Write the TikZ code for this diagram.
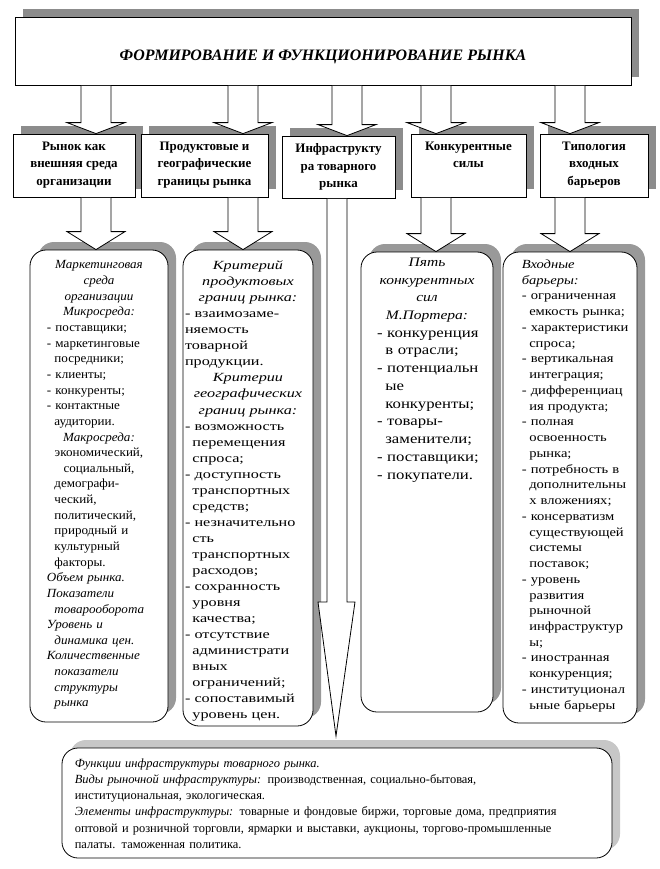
\documentclass[tikz,border=0pt]{standalone}
\usepackage{fontspec}
\setmainfont{Liberation Serif}
\newfontfamily\mktfont[FakeStretch=1.05]{Liberation Serif}
\newfontfamily\grnfont[FakeStretch=1.3]{Liberation Serif}
\newfontfamily\prtfont[FakeStretch=1.2]{Liberation Serif}
\newfontfamily\barfont[FakeStretch=1.17]{Liberation Serif}
\usetikzlibrary{positioning,shadows}
\newcommand\ind{\hspace*{0.6em}}
\newcommand\dsh{\mbox{-}~}
\tikzset{
  sbox/.style={draw, fill=white, line width=.8bp, inner sep=0pt,
    general shadow={fill=#1, shadow xshift=8bp, shadow yshift=8bp}},
  sbox/.default=black!45,
  rbox/.style={sbox=#1, rounded corners=16bp},
  rbox/.default=black!40,
  hdr/.style={anchor=north, align=center, inner sep=0pt,
    font=\fontsize{13}{17.5}\selectfont\bfseries},
  txt/.style={anchor=north, text width=#1, inner sep=0pt, align=left},
  barr/.style={draw, fill=white, line width=.8bp, line join=miter}
}
% block arrow: x, from node, to node, head length
\newcommand\barrow[4]{%
  \path (#1,0 |- #2.south) coordinate (as) (#1,0 |- #3.north) coordinate (ae);
  \draw[barr] ([xshift=-15bp,yshift=-.5bp]as) -- ([xshift=-15bp,yshift=#4]ae)
    -- ([xshift=-29bp,yshift=#4]ae) -- (ae) -- ([xshift=29bp,yshift=#4]ae)
    -- ([xshift=15bp,yshift=#4]ae) -- ([xshift=15bp,yshift=-.5bp]as);
}
\begin{document}
\begin{tikzpicture}[x=1bp, y=-1bp]
\useasboundingbox (0,0) rectangle (660,869);

\node[sbox, minimum width=616bp, minimum height=68bp] (title) at (323,51) {};
\node[font=\fontsize{16}{19}\selectfont\bfseries\itshape] (titlet)
  at ([yshift=-6bp]title.center) {ФОРМИРОВАНИЕ И ФУНКЦИОНИРОВАНИЕ РЫНКА};

% headers
\node[sbox, minimum width=122bp, minimum height=63bp] (h1) at (74,165.5) {};
\node[sbox, minimum width=127bp, minimum height=63bp] (h2) at (204.5,165.5) {};
\node[sbox, minimum width=113bp, minimum height=62bp] (h3) at (338.5,167) {};
\node[sbox, minimum width=115bp, minimum height=63bp] (h4) at (468.5,165.5) {};
\node[sbox, minimum width=108bp, minimum height=63bp] (h5) at (594,165.5) {};
\node[hdr, below=8bp of h1.north] (h1t) {Рынок как\\ внешняя среда\\ организации};
\node[hdr, below=8bp of h2.north] (h2t) {Продуктовые и\\ географические\\ границы рынка};
\node[hdr, below=8bp of h3.north] (h3t) {Инфраструкту\\ ра товарного\\ рынка};
\node[hdr, below=8bp of h4.north] (h4t) {Конкурентные\\ силы};
\node[hdr, below=8bp of h5.north] (h5t) {Типология\\ входных\\ барьеров};

% lower boxes
\node[rbox, minimum width=138bp, minimum height=472bp] (b1) at (99,486) {};
\node[rbox, minimum width=130bp, minimum height=476bp] (b2) at (248,488) {};
\node[rbox, minimum width=132bp, minimum height=460bp] (b4) at (427,482) {};
\node[rbox, minimum width=134bp, minimum height=471bp] (b5) at (570,487.5) {};
\node[rbox=black!22, minimum width=550bp, minimum height=110bp] (bot) at (337,803) {};

\node[txt=104bp, below=11bp of b1.north, font=\fontsize{12.5}{15.7}\mktfont] (b1t) {%
{\centering\itshape Маркетинговая\\ среда\\ организации\\ Микросреда:\par}
\dsh поставщики;\\ \dsh маркетинговые\\ \ind посредники;\\ \dsh клиенты;\\ \dsh конкуренты;\\
\dsh контактные\\ \ind аудитории.\par
{\centering\itshape Макросреда:\par}
{\centering экономический,\\ социальный,\par}
\ind демографи-\\ \ind ческий,\\ \ind политический,\\ \ind природный и\\
\ind культурный\\ \ind факторы.\par
{\itshape Объем рынка.\\ Показатели\\ \ind товарооборота\\ Уровень и\\
\ind динамика цен.\\ Количественные\\ \ind показатели\\ \ind структуры\\ \ind рынка\par}};

\node[txt=126bp, below=11bp of b2.north, font=\fontsize{12.5}{16.1}\grnfont] (b2t) {%
{\centering\itshape Критерий\\ продуктовых\\ границ рынка:\par}
\dsh взаимозаме-\\ няемость\\ товарной\\ продукции.\par
{\centering\itshape Критерии\\ географических\\ границ рынка:\par}
\dsh возможность\\ \ind перемещения\\ \ind спроса;\\
\dsh доступность\\ \ind транспортных\\ \ind средств;\\
\dsh незначительно\\ \ind сть\\ \ind транспортных\\ \ind расходов;\\
\dsh сохранность\\ \ind уровня\\ \ind качества;\\
\dsh отсутствие\\ \ind администрати\\ \ind вных\\ \ind ограничений;\\
\dsh сопоставимый\\ \ind уровень цен.};

\node[txt=100bp, below=6bp of b4.north, font=\fontsize{14}{17.8}\prtfont] (b4t) {%
{\centering\itshape\fontsize{13}{17.8}\selectfont Пять\\ конкурентных\\ сил\\ М.Портера:\par}
\dsh конкуренция\\ \ind в~отрасли;\\ \dsh потенциальн\\ \ind ые\\ \ind конкуренты;\\
\dsh товары-\\ \ind заменители;\\ \dsh поставщики;\\ \dsh покупатели.};

\node[txt=118bp, below right=8bp and 19bp of b5.north west,
  font=\fontsize{12.5}{15.8}\barfont] (b5t) {%
{\itshape Входные\\ барьеры:\par}
\dsh ограниченная\\ \ind емкость~рынка;\\ \dsh характеристики\\ \ind спроса;\\
\dsh вертикальная\\ \ind интеграция;\\ \dsh дифференциац\\ \ind ия~продукта;\\
\dsh полная\\ \ind освоенность\\ \ind рынка;\\ \dsh потребность~в\\ \ind дополнительны\\
\ind х~вложениях;\\ \dsh консерватизм\\ \ind существующей\\ \ind системы\\ \ind поставок;\\
\dsh уровень\\ \ind развития\\ \ind рыночной\\ \ind инфраструктур\\ \ind ы;\\
\dsh иностранная\\ \ind конкуренция;\\ \dsh институционал\\ \ind ьные~барьеры};

\node[txt=545bp, below right=11bp and 13bp of bot.north west,
  font=\fontsize{12.5}{16.2}\selectfont] (bott) {%
{\itshape Функции инфраструктуры товарного рынка.\par}
{\itshape Виды рыночной инфраструктуры:} производственная, социально-бытовая,\\
институциональная, экологическая.\\
{\itshape Элементы инфраструктуры:} товарные и фондовые биржи, торговые дома, предприятия\\
оптовой и розничной торговли, ярмарки и выставки, аукционы, торгово-промышленные\\
палаты. таможенная политика.};

% arrows
\barrow{96}{title}{h1}{11bp}
\barrow{243}{title}{h2}{11bp}
\barrow{347}{title}{h3}{11bp}
\barrow{436}{title}{h4}{11bp}
\barrow{570}{title}{h5}{11bp}
\barrow{96}{h1}{b1}{18bp}
\barrow{243}{h2}{b2}{18bp}
\barrow{436}{h4}{b4}{18bp}
\barrow{570}{h5}{b5}{18bp}

\path (337,0 |- h3.south) coordinate (ls) (337,602) coordinate (lh);
\coordinate (ltip) at (336,736);
\draw[barr] ([xshift=-10bp,yshift=-.5bp]ls) -- ([xshift=-10bp]lh) -- ([xshift=-19bp]lh)
  -- (ltip) -- ([xshift=18bp]lh) -- ([xshift=10bp]lh) -- ([xshift=10bp,yshift=-.5bp]ls);
\end{tikzpicture}
\end{document}
